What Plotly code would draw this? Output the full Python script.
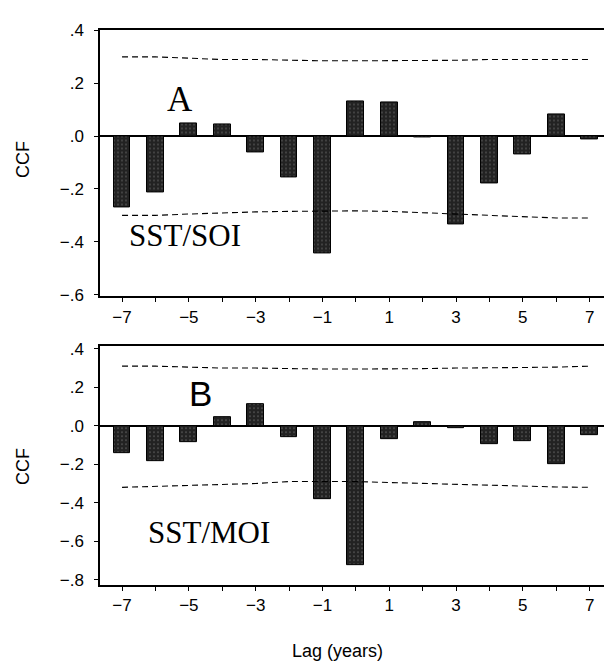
import plotly.graph_objects as go
from plotly.subplots import make_subplots

lags = list(range(-7, 8))
ccf_soi = [-0.27, -0.213, 0.048, 0.045, -0.063, -0.158, -0.444, 0.131, 0.127, -0.006,
           -0.333, -0.18, -0.068, 0.083, -0.012]
ccf_moi = [-0.14, -0.185, -0.084, 0.044, 0.115, -0.059, -0.383, -0.726, -0.067, 0.017,
           -0.01, -0.093, -0.079, -0.2, -0.047]
soi_upper = [0.30, 0.30, 0.295, 0.29, 0.29, 0.287, 0.285, 0.285, 0.285, 0.285, 0.287, 0.29, 0.29, 0.29, 0.29]
soi_lower = [-0.30, -0.30, -0.295, -0.29, -0.287, -0.285, -0.283, -0.283, -0.285, -0.29, -0.295, -0.30, -0.305, -0.31, -0.31]
moi_upper = [0.31, 0.31, 0.305, 0.30, 0.30, 0.297, 0.295, 0.295, 0.295, 0.297, 0.30, 0.30, 0.303, 0.305, 0.31]
moi_lower = [-0.32, -0.315, -0.31, -0.305, -0.30, -0.29, -0.29, -0.29, -0.295, -0.30, -0.305, -0.31, -0.315, -0.318, -0.32]

xtick_text = ["\u22127", "", "\u22125", "", "\u22123", "", "\u22121", "", "1", "", "3", "", "5", "", "7"]
ytick_vals_a = [0.4, 0.2, 0.0, -0.2, -0.4, -0.6]
ytick_text_a = [".4", ".2", ".0", "\u2212.2", "\u2212.4", "\u2212.6"]
ytick_vals_b = [0.4, 0.2, 0.0, -0.2, -0.4, -0.6, -0.8]
ytick_text_b = [".4", ".2", ".0", "\u2212.2", "\u2212.4", "\u2212.6", "\u2212.8"]

W, H = 604, 664
fig = make_subplots(rows=2, cols=1)

bar_marker = dict(color="#2b2b2b", line=dict(color="black", width=1),
                  pattern=dict(shape=".", fgcolor="#9a9a9a", bgcolor="#222222", size=4, solidity=0.15))

for row, vals, up, lo in [(1, ccf_soi, soi_upper, soi_lower), (2, ccf_moi, moi_upper, moi_lower)]:
    fig.add_trace(go.Bar(x=lags, y=vals, width=0.5, marker=bar_marker, showlegend=False), row=row, col=1)
    for lim in (up, lo):
        fig.add_trace(go.Scatter(x=lags, y=lim, mode="lines", showlegend=False,
                                 line=dict(color="black", width=1.1, dash="6px,4px")), row=row, col=1)

tickfont = dict(family="Liberation Sans, Arial, sans-serif", size=17, color="black")
xaxis_common = dict(range=[-7.66, 7.43], tickmode="array", tickvals=lags, ticktext=xtick_text,
                    showline=True, linecolor="black", linewidth=1.5, mirror=True,
                    ticks="outside", ticklen=4, tickcolor="black", showgrid=False,
                    zeroline=False, tickfont=tickfont)
yaxis_common = dict(showline=True, linecolor="black", linewidth=1.5, ticks="outside", ticklen=4,
                    tickcolor="black", showgrid=False, zeroline=True, zerolinecolor="black",
                    zerolinewidth=1.5, tickfont=tickfont, ticklabelstandoff=7)

fig.update_layout(
    width=W, height=H, margin=dict(l=0, r=0, t=0, b=0),
    paper_bgcolor="white", plot_bgcolor="white", bargap=0,
    xaxis=dict(domain=[100 / W, 1], **xaxis_common),
    xaxis2=dict(domain=[100 / W, 1], **xaxis_common),
    yaxis=dict(domain=[(H - 295) / H, (H - 22) / H], range=[-0.607, 0.4],
               tickmode="array", tickvals=ytick_vals_a, ticktext=ytick_text_a, **yaxis_common),
    yaxis2=dict(domain=[(H - 591) / H, (H - 346) / H], range=[-0.827, 0.414],
                tickmode="array", tickvals=ytick_vals_b, ticktext=ytick_text_b, **yaxis_common),
)

serif = "Liberation Serif, Times New Roman, serif"
sans = "Liberation Sans, Arial, sans-serif"
anns = [
    dict(x=-5.26, y=0.138, xref="x", yref="y", text="A", font=dict(family=serif, size=35, color="black")),
    dict(x=-5.11, y=-0.378, xref="x", yref="y", text="SST/SOI", font=dict(family=serif, size=31, color="black")),
    dict(x=-4.64, y=0.168, xref="x2", yref="y2", text="B", font=dict(family=sans, size=35, color="black")),
    dict(x=-4.39, y=-0.553, xref="x2", yref="y2", text="SST/MOI", font=dict(family=serif, size=31, color="black")),
    dict(x=23 / W, y=1 - 155 / H, xref="paper", yref="paper", text="CCF", textangle=-90,
         font=dict(family=sans, size=18, color="black")),
    dict(x=23 / W, y=1 - 470 / H, xref="paper", yref="paper", text="CCF", textangle=-90,
         font=dict(family=sans, size=18, color="black")),
    dict(x=337 / W, y=1 - 659 / H, xref="paper", yref="paper", text="Lag (years)",
         font=dict(family=sans, size=18, color="black")),
]
for a in anns:
    a.update(showarrow=False, xanchor="center", yanchor="middle")
fig.update_layout(annotations=anns)

fig.write_html("out.html")
